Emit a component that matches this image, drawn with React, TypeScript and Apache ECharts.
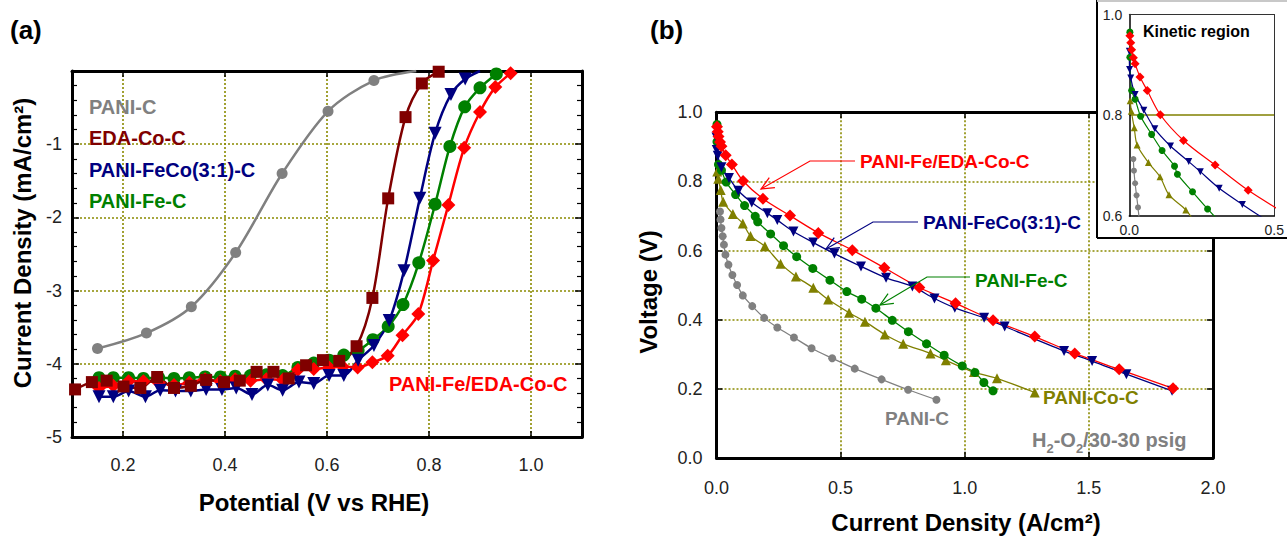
import React, { useEffect, useRef } from 'react';
import * as echarts from 'echarts';

const FONT = '"Liberation Sans", Arial, Helvetica, sans-serif';

// ---------- Panel (a): RDE polarization ----------
const aXTicks = [0.2, 0.4, 0.6, 0.8, 1.0];

const aPaniCX = [0.150, 0.246, 0.334, 0.421, 0.512, 0.602, 0.692, 0.775];
const aPaniCY = [-3.79, -3.58, -3.22, -2.48, -1.40, -0.55, -0.13, 0.0];

const aEdaX = [0.106, 0.139, 0.168, 0.201, 0.234, 0.267, 0.300, 0.333, 0.363, 0.398, 0.429, 0.462, 0.495, 0.525, 0.559, 0.592, 0.624, 0.658, 0.689, 0.720, 0.754, 0.786, 0.819];
const aEdaY = [-4.35, -4.25, -4.23, -4.31, -4.33, -4.18, -4.33, -4.30, -4.22, -4.25, -4.23, -4.11, -4.11, -4.20, -4.02, -3.95, -3.96, -3.76, -3.10, -1.74, -0.63, -0.17, -0.01];

const aFeCoX = [0.153, 0.181, 0.211, 0.244, 0.273, 0.303, 0.333, 0.363, 0.394, 0.422, 0.453, 0.484, 0.513, 0.545, 0.574, 0.604, 0.633, 0.661, 0.692, 0.722, 0.751, 0.782, 0.812, 0.843, 0.871, 0.900];
const aFeCoY = [-4.45, -4.45, -4.37, -4.45, -4.36, -4.37, -4.37, -4.35, -4.35, -4.33, -4.42, -4.29, -4.36, -4.25, -4.27, -4.16, -4.16, -3.95, -3.75, -3.41, -2.73, -1.74, -0.85, -0.32, -0.11, 0.0];

const aFeX = [0.153, 0.181, 0.211, 0.240, 0.270, 0.300, 0.330, 0.361, 0.391, 0.420, 0.450, 0.481, 0.513, 0.543, 0.574, 0.604, 0.633, 0.661, 0.690, 0.720, 0.749, 0.780, 0.812, 0.841, 0.870, 0.900, 0.932];
const aFeY = [-4.19, -4.19, -4.19, -4.20, -4.19, -4.20, -4.19, -4.18, -4.18, -4.17, -4.16, -4.15, -4.16, -4.05, -3.99, -3.95, -3.88, -3.82, -3.67, -3.49, -3.19, -2.62, -1.82, -1.03, -0.49, -0.23, -0.04];

const aFeEdaX = [0.153, 0.181, 0.211, 0.240, 0.270, 0.300, 0.330, 0.361, 0.391, 0.420, 0.450, 0.481, 0.513, 0.543, 0.574, 0.604, 0.631, 0.660, 0.689, 0.719, 0.748, 0.779, 0.808, 0.838, 0.869, 0.900, 0.930, 0.960];
const aFeEdaY = [-4.33, -4.30, -4.24, -4.24, -4.26, -4.29, -4.26, -4.21, -4.24, -4.21, -4.23, -4.21, -4.22, -4.08, -4.07, -4.05, -4.04, -4.05, -3.98, -3.89, -3.61, -3.32, -2.59, -1.83, -1.05, -0.56, -0.22, -0.03];

// ---------- Panel (b): fuel cell polarization ----------
const bFeEdaX = [0.002, 0.005, 0.008, 0.014, 0.020, 0.037, 0.062, 0.107, 0.187, 0.296, 0.410, 0.547, 0.676, 0.817, 0.963, 1.114, 1.282, 1.443, 1.622, 1.839];
const bFeEdaY = [0.958, 0.944, 0.930, 0.914, 0.902, 0.876, 0.849, 0.801, 0.750, 0.701, 0.651, 0.601, 0.550, 0.493, 0.447, 0.398, 0.351, 0.302, 0.256, 0.201];

const bFeCoX = [0.000, 0.001, 0.005, 0.020, 0.050, 0.088, 0.142, 0.205, 0.245, 0.310, 0.390, 0.475, 0.582, 0.683, 0.789, 0.878, 0.960, 1.078, 1.161, 1.400, 1.513, 1.651, 1.835];
const bFeCoY = [0.927, 0.891, 0.874, 0.841, 0.810, 0.773, 0.739, 0.708, 0.688, 0.655, 0.623, 0.591, 0.554, 0.521, 0.496, 0.461, 0.434, 0.405, 0.380, 0.309, 0.280, 0.242, 0.194];

const bFeX = [0.002, 0.002, 0.008, 0.020, 0.039, 0.077, 0.113, 0.156, 0.166, 0.218, 0.270, 0.323, 0.388, 0.457, 0.525, 0.585, 0.642, 0.708, 0.773, 0.846, 0.917, 0.990, 1.041, 1.077, 1.114];
const bFeY = [0.965, 0.915, 0.849, 0.832, 0.798, 0.762, 0.730, 0.699, 0.683, 0.648, 0.614, 0.582, 0.548, 0.514, 0.481, 0.459, 0.433, 0.398, 0.365, 0.330, 0.297, 0.266, 0.247, 0.218, 0.194];

const bCoX = [0.003, 0.007, 0.017, 0.027, 0.066, 0.106, 0.137, 0.195, 0.258, 0.320, 0.390, 0.450, 0.534, 0.598, 0.678, 0.752, 0.862, 0.924, 1.037, 1.130, 1.282];
const bCoY = [0.829, 0.808, 0.775, 0.741, 0.706, 0.678, 0.642, 0.612, 0.562, 0.525, 0.492, 0.458, 0.420, 0.394, 0.357, 0.330, 0.302, 0.282, 0.248, 0.230, 0.189];

const bPaniCX = [0.014, 0.016, 0.020, 0.025, 0.030, 0.036, 0.048, 0.064, 0.083, 0.106, 0.144, 0.192, 0.245, 0.312, 0.383, 0.466, 0.557, 0.665, 0.772, 0.886];
const bPaniCY = [0.713, 0.690, 0.665, 0.641, 0.617, 0.588, 0.559, 0.529, 0.500, 0.470, 0.439, 0.405, 0.377, 0.348, 0.317, 0.288, 0.258, 0.227, 0.197, 0.168];

const C = {
  gray: '#808080',
  maroon: '#800000',
  navy: '#000080',
  green: '#008000',
  red: '#ff0000',
  olive: '#808000',
  grid: '#8a8a00',
};

function pts(xs: number[], ys: number[], lastBare = false) {
  return xs.map((x, i) => {
    const item: any = { value: [x, ys[i]] };
    if (lastBare && i === xs.length - 1) item.symbolSize = 0;
    return item;
  });
}

function ser(name: string, data: any[], color: string, symbol: string, size: number, xi: number, yi: number, width: number, extra: any = {}) {
  return {
    type: 'line',
    name,
    data,
    xAxisIndex: xi,
    yAxisIndex: yi,
    symbol,
    symbolSize: size,
    smooth: 0.3,
    clip: true,
    lineStyle: { color, width },
    itemStyle: { color, borderWidth: 0 },
    emphasis: { disabled: true },
    silent: true,
    ...extra,
  };
}

const dotted = { color: C.grid, width: 1.6, type: [2, 2] as any };

function boxAxis(gridIndex: number, pos: string, min: number, max: number, interval: number, lw: number, extra: any = {}) {
  return {
    type: 'value',
    gridIndex,
    position: pos,
    min,
    max,
    interval,
    axisLine: { show: true, onZero: false, lineStyle: { color: '#000', width: lw } },
    axisTick: { show: true, inside: true, length: 6, lineStyle: { color: '#000', width: 1.5 } },
    axisLabel: { show: false },
    splitLine: { show: false },
    ...extra,
  };
}

function arrow(pts2: number[][], color: string) {
  const tip = pts2[pts2.length - 1];
  const prev = pts2[pts2.length - 2];
  const dx = prev[0] - tip[0];
  const dy = prev[1] - tip[1];
  const len = Math.hypot(dx, dy);
  const ux = dx / len;
  const uy = dy / len;
  const a = (24 * Math.PI) / 180;
  const L = 14;
  const r = (ang: number) => [tip[0] + L * (ux * Math.cos(ang) - uy * Math.sin(ang)), tip[1] + L * (ux * Math.sin(ang) + uy * Math.cos(ang))];
  return [
    { type: 'polyline', z: 100, shape: { points: pts2 }, style: { stroke: color, lineWidth: 1.2, fill: null } },
    { type: 'polyline', z: 100, shape: { points: [r(a), tip, r(-a)] }, style: { stroke: color, lineWidth: 1.2, fill: null } },
  ];
}

function txt(text: string, x: number, y: number, color: string, size: number, extra: any = {}) {
  return {
    type: 'text',
    x,
    y,
    z: 100,
    style: { text, fill: color, fontSize: size, fontWeight: 'bold', fontFamily: FONT, verticalAlign: 'middle', align: 'left', ...extra },
  };
}

export default function App() {
  const ref = useRef<HTMLDivElement>(null);
  useEffect(() => {
    if (!ref.current) return;
    const chart = echarts.init(ref.current, null, { renderer: 'svg' });
    const tickLabel = { color: '#222', fontSize: 18, fontFamily: FONT };
    const option: any = {
      animation: false,
      backgroundColor: '#fff',
      grid: [
        { left: 72, top: 71, width: 510, height: 366 },
        { left: 716.5, top: 112.3, width: 496.5, height: 345.5 },
        { left: 1129.3, top: 14.5, width: 145, height: 201.5, z: 60 },
      ],
      xAxis: [
        // (a) bottom
        {
          type: 'value', gridIndex: 0, position: 'bottom', min: 0.1, max: 1.1,
          axisLine: { show: true, onZero: false, lineStyle: { color: '#000', width: 3 } },
          axisTick: { show: true, inside: true, length: 6, customValues: aXTicks, lineStyle: { color: '#000', width: 1.5 } },
          axisLabel: { show: true, customValues: aXTicks, margin: 19, formatter: (v: number) => v.toFixed(1), ...tickLabel },
          splitLine: { show: true, lineStyle: dotted },
        },
        // (a) top
        {
          type: 'value', gridIndex: 0, position: 'top', min: 0.1, max: 1.1,
          axisLine: { show: true, onZero: false, lineStyle: { color: '#000', width: 3 } },
          axisTick: { show: true, inside: true, length: 6, customValues: aXTicks, lineStyle: { color: '#000', width: 1.5 } },
          axisLabel: { show: false },
          splitLine: { show: false },
        },
        // (b) bottom
        boxAxis(1, 'bottom', 0, 2, 0.5, 3, {
          axisLabel: { show: true, margin: 21, formatter: (v: number) => v.toFixed(1), ...tickLabel },
          splitLine: { show: true, showMinLine: false, showMaxLine: false, lineStyle: dotted },
        }),
        // (b) top
        boxAxis(1, 'top', 0, 2, 0.5, 3),
        // inset bottom
        boxAxis(2, 'bottom', 0, 0.5, 0.5, 1.5, {
          z: 60,
          axisTick: { show: false },
          axisLabel: { show: true, margin: 7, formatter: (v: number) => v.toFixed(1), color: '#222', fontSize: 14, fontFamily: FONT },
        }),
        // inset top
        boxAxis(2, 'top', 0, 0.5, 0.5, 1, { z: 60, axisTick: { show: false }, axisLine: { show: true, onZero: false, lineStyle: { color: '#333', width: 1 } } }),
      ],
      yAxis: [
        // (a) left
        {
          type: 'value', gridIndex: 0, position: 'left', min: -5, max: 0, interval: 1,
          axisLine: { show: true, onZero: false, lineStyle: { color: '#000', width: 3 } },
          axisTick: { show: true, inside: true, length: 7, lineStyle: { color: '#000', width: 1.5 } },
          minorTick: { show: true, splitNumber: 5, length: 5, lineStyle: { color: '#000', width: 1.2 } },
          axisLabel: { show: true, margin: 10, formatter: (v: number) => (v === 0 ? '' : String(v)), ...tickLabel },
          splitLine: { show: true, showMinLine: false, showMaxLine: false, lineStyle: dotted },
        },
        // (a) right
        {
          type: 'value', gridIndex: 0, position: 'right', min: -5, max: 0, interval: 1,
          axisLine: { show: true, onZero: false, lineStyle: { color: '#000', width: 3 } },
          axisTick: { show: true, inside: true, length: 7, lineStyle: { color: '#000', width: 1.5 } },
          minorTick: { show: true, splitNumber: 5, length: 5, lineStyle: { color: '#000', width: 1.2 } },
          axisLabel: { show: false },
          splitLine: { show: false },
        },
        // (b) left
        boxAxis(1, 'left', 0, 1, 0.2, 3, {
          axisLabel: { show: true, margin: 14, formatter: (v: number) => v.toFixed(1), ...tickLabel },
          splitLine: { show: true, showMinLine: false, showMaxLine: false, lineStyle: dotted },
        }),
        // (b) right
        boxAxis(1, 'right', 0, 1, 0.2, 3),
        // inset left
        boxAxis(2, 'left', 0.6, 1.0, 0.2, 1.5, {
          z: 60,
          axisTick: { show: false },
          axisLabel: { show: true, margin: 7, formatter: (v: number) => v.toFixed(1), color: '#222', fontSize: 14, fontFamily: FONT },
          splitLine: { show: true, showMinLine: false, showMaxLine: false, lineStyle: { color: C.olive, width: 1.5, type: 'solid' } },
        }),
        // inset right
        boxAxis(2, 'right', 0.6, 1.0, 0.2, 1, { z: 60, axisTick: { show: false }, axisLine: { show: true, onZero: false, lineStyle: { color: '#333', width: 1 } } }),
      ],
      series: [
        // (a)
        ser('PANI-C', pts(aPaniCX, aPaniCY, true), C.gray, 'circle', 11, 0, 0, 2.5),
        ser('PANI-Fe-C', pts(aFeX, aFeY), C.green, 'circle', 13, 0, 0, 2.5),
        ser('PANI-Fe/EDA-Co-C', pts(aFeEdaX, aFeEdaY), C.red, 'diamond', 14, 0, 0, 2.5),
        ser('PANI-FeCo(3:1)-C', pts(aFeCoX, aFeCoY, true), C.navy, 'triangle', 13, 0, 0, 2.5, { symbolRotate: 180 }),
        ser('EDA-Co-C', pts(aEdaX, aEdaY), C.maroon, 'rect', 12, 0, 0, 2.5),
        // (b)
        ser('PANI-C', pts(bPaniCX, bPaniCY), C.gray, 'circle', 8, 2, 2, 1.3),
        ser('PANI-Co-C', pts(bCoX, bCoY), C.olive, 'triangle', 10, 2, 2, 1.3),
        ser('PANI-Fe-C', pts(bFeX, bFeY), C.green, 'circle', 9, 2, 2, 1.3),
        ser('PANI-FeCo(3:1)-C', pts(bFeCoX, bFeCoY), C.navy, 'triangle', 10, 2, 2, 1.3, { symbolRotate: 180 }),
        ser('PANI-Fe/EDA-Co-C', pts(bFeEdaX, bFeEdaY), C.red, 'diamond', 12, 2, 2, 1.3),
        // inset
        ser('PANI-C', pts(bPaniCX, bPaniCY), C.gray, 'circle', 6, 4, 4, 1.2, { z: 70 }),
        ser('PANI-Co-C', pts(bCoX, bCoY), C.olive, 'triangle', 7, 4, 4, 1.2, { z: 70 }),
        ser('PANI-Fe-C', pts(bFeX, bFeY), C.green, 'circle', 7, 4, 4, 1.2, { z: 70 }),
        ser('PANI-FeCo(3:1)-C', pts(bFeCoX, bFeCoY), C.navy, 'triangle', 7, 4, 4, 1.2, { z: 70, symbolRotate: 180 }),
        ser('PANI-Fe/EDA-Co-C', pts(bFeEdaX, bFeEdaY), C.red, 'diamond', 9, 4, 4, 1.2, { z: 70 }),
      ],
      graphic: [
        // panel letters
        txt('(a)', 10, 30, '#000', 26),
        txt('(b)', 650, 30, '#000', 26),
        // axis titles
        { ...txt('Current Density (mA/cm\u00b2)', 22, 243, '#000', 24, { align: 'center' }), rotation: Math.PI / 2 },
        txt('Potential (V vs RHE)', 314, 502, '#000', 24, { align: 'center' }),
        { ...txt('Voltage (V)', 648, 292, '#000', 24, { align: 'center' }), rotation: Math.PI / 2 },
        txt('Current Density (A/cm\u00b2)', 966, 522, '#000', 24, { align: 'center' }),
        // (a) labels
        txt('PANI-C', 89, 107, C.gray, 20),
        txt('EDA-Co-C', 89, 138, C.maroon, 20),
        txt('PANI-FeCo(3:1)-C', 89, 170, C.navy, 20),
        txt('PANI-Fe-C', 89, 201, C.green, 20),
        txt('PANI-Fe/EDA-Co-C', 389, 384, C.red, 20),
        // (b) labels
        txt('PANI-Fe/EDA-Co-C', 860, 161, C.red, 19),
        txt('PANI-FeCo(3:1)-C', 923, 222, C.navy, 19),
        txt('PANI-Fe-C', 975, 280, C.green, 19),
        txt('PANI-Co-C', 1043, 397, C.olive, 19),
        txt('PANI-C', 885, 418, C.gray, 19),
        {
          type: 'text', x: 1032, y: 440, z: 100,
          style: {
            text: '{a|H}{s|2}{a|-O}{s|2}{a|/30-30 psig}',
            verticalAlign: 'middle',
            rich: {
              a: { fill: C.gray, fontSize: 20, fontWeight: 'bold', fontFamily: FONT, lineHeight: 30 },
              s: { fill: C.gray, fontSize: 13, fontWeight: 'bold', fontFamily: FONT, lineHeight: 30, verticalAlign: 'bottom' },
            },
          },
        },
        ...arrow([[855, 161], [810, 161], [761, 189]], C.red),
        ...arrow([[918, 222], [873, 222], [826, 249]], C.navy),
        ...arrow([[970, 277], [927, 277], [880, 305]], C.green),
        // inset frame
        { type: 'rect', z: 50, shape: { x: 1097, y: 0, width: 195, height: 238 }, style: { fill: '#fff', stroke: null } },
        { type: 'line', z: 51, shape: { x1: 1097, y1: 0, x2: 1097, y2: 238 }, style: { stroke: '#000', lineWidth: 2 } },
        { type: 'line', z: 51, shape: { x1: 1097, y1: 238, x2: 1290, y2: 238 }, style: { stroke: '#000', lineWidth: 2 } },
        { type: 'line', z: 51, shape: { x1: 1097, y1: 1, x2: 1290, y2: 1 }, style: { stroke: '#c8c8c8', lineWidth: 2 } },
        txt('Kinetic region', 1143, 31, '#000', 16),
      ],
    };
    chart.setOption(option);
    return () => chart.dispose();
  }, []);
  return <div ref={ref} style={{ position: 'fixed', left: 0, top: 0, width: 1287, height: 537 }} />;
}
